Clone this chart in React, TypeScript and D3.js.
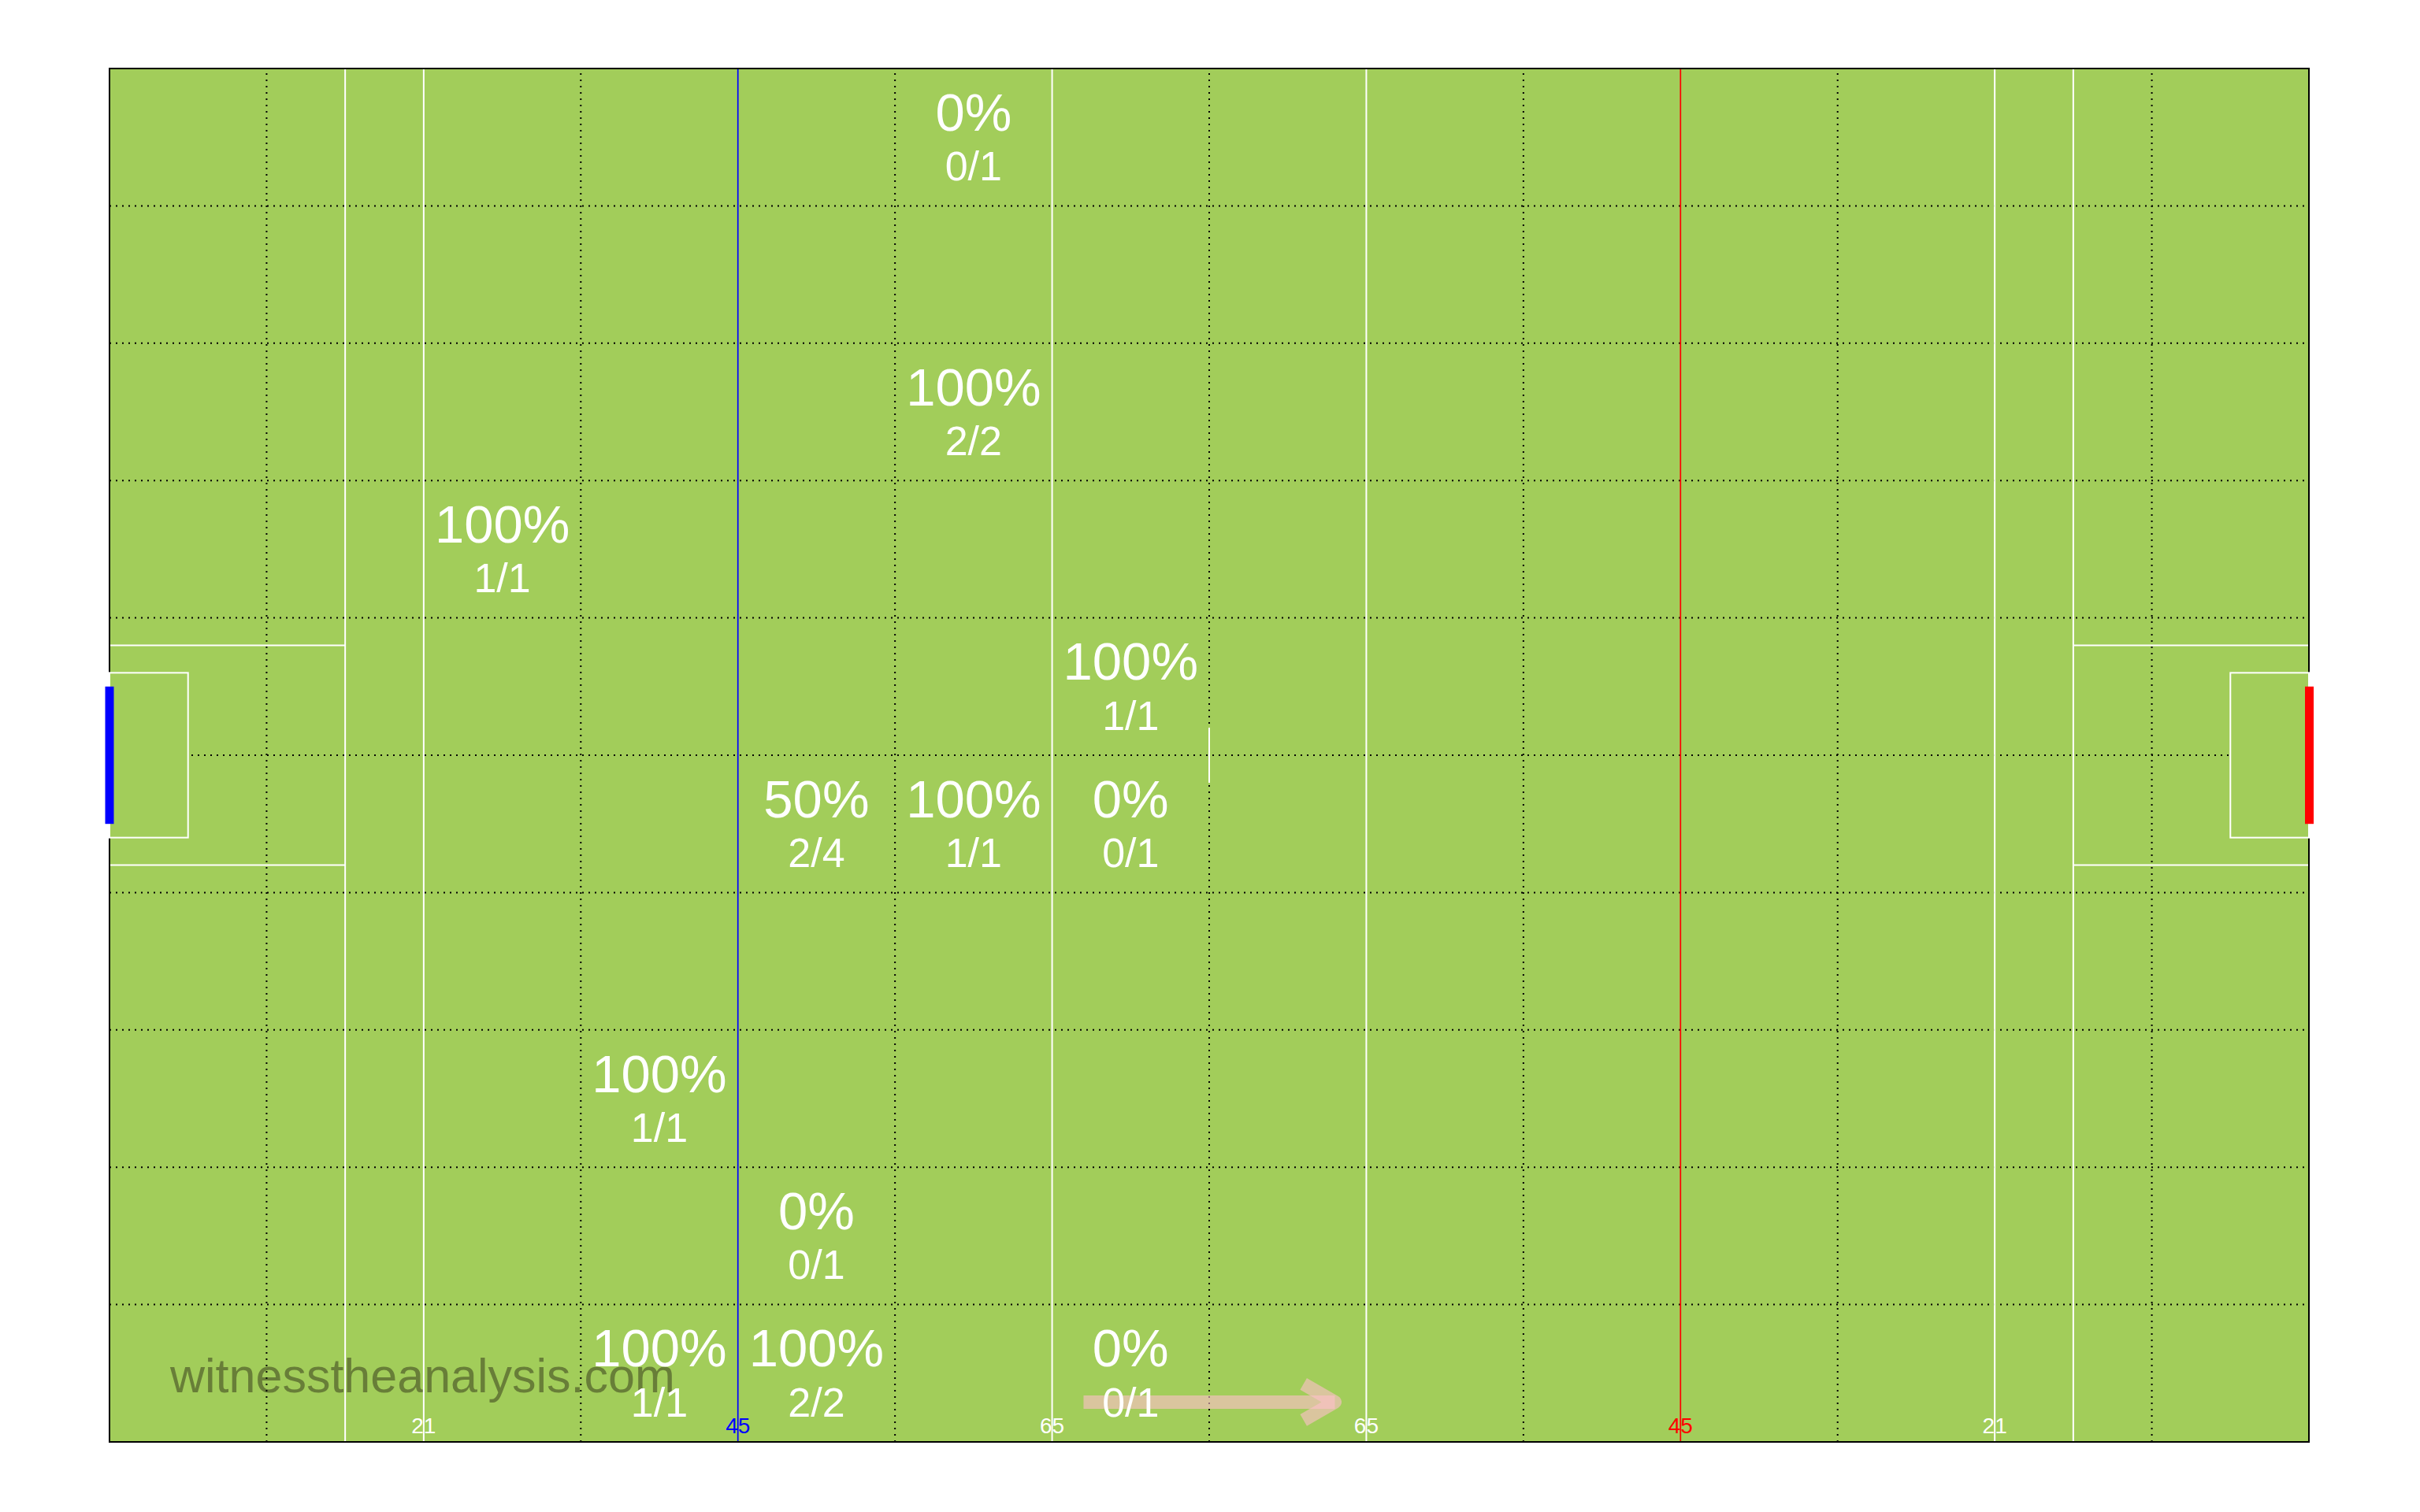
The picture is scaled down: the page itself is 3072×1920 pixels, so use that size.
import React from "react";
import * as d3 from "d3";

// ---- data ----
const X_DOMAIN = [0, 140];
const Y_DOMAIN = [0, 100];
const gridX = [10, 30, 50, 70, 90, 110, 130];
const gridY = [10, 20, 30, 40, 50, 60, 70, 80, 90];
const whiteLinesX = [15, 20, 60, 80, 120, 125];
const blueLineX = 40;
const redLineX = 100;
const markerX = [20, 40, 60, 80, 100, 120];
const markerLabels = ["21", "45", "65", "65", "45", "21"];
const markerColors = ["white", "blue", "white", "white", "red", "white"];

const cellX = [55, 55, 25, 65, 45, 55, 65, 35, 45, 35, 45, 65];
const cellY = [95, 75, 65, 55, 45, 45, 45, 25, 15, 5, 5, 5];
const made = [0, 2, 1, 1, 2, 1, 0, 1, 0, 1, 2, 0];
const attempts = [1, 2, 1, 1, 4, 1, 1, 1, 1, 1, 2, 1];

const bigBoxY = [42, 58];
const smallBoxY = [44, 56];
const goalY = [45, 55];
const centerMarkY = [48, 52];
const arrowFrom = [62, 2.9];
const arrowTo = [78, 2.9];

const W = 3072;
const H = 1920;
const LEFT = 139;
const RIGHT = 2931;
const TOP = 87;
const BOTTOM = 1831;

export default function App() {
  const x = d3.scaleLinear().domain(X_DOMAIN).range([LEFT, RIGHT]);
  const y = d3.scaleLinear().domain(Y_DOMAIN).range([BOTTOM, TOP]);
  const font = "'Liberation Sans', Arial, Helvetica, sans-serif";
  const green = "#A2CD5A";

  const ax0 = x(arrowFrom[0]);
  const ay0 = y(arrowFrom[1]);
  const ax1 = x(arrowTo[0]);
  const ay1 = y(arrowTo[1]);
  const headLen = 46;
  const ang = Math.atan2(ay1 - ay0, ax1 - ax0);
  const h1 = [ax1 - headLen * Math.cos(ang - Math.PI / 6), ay1 - headLen * Math.sin(ang - Math.PI / 6)];
  const h2 = [ax1 - headLen * Math.cos(ang + Math.PI / 6), ay1 - headLen * Math.sin(ang + Math.PI / 6)];
  const headPath = d3.line()([h1 as [number, number], [ax1, ay1], h2 as [number, number]]) || "";

  return (
    <svg
      width={W}
      height={H}
      viewBox={`0 0 ${W} ${H}`}
      style={{ position: "absolute", left: 0, top: 0, display: "block", background: "white" }}
    >
      <rect x={LEFT} y={TOP} width={RIGHT - LEFT} height={BOTTOM - TOP} fill={green} />

      {/* watermark */}
      <text x={216} y={1768} fontFamily={font} fontSize={61} fill="#687E38">
        witnesstheanalysis.com
      </text>

      {/* dotted grid */}
      {gridX.map((v) => (
        <line key={"gx" + v} x1={x(v)} x2={x(v)} y1={y(0)} y2={y(100)} stroke="black" strokeWidth={2} strokeDasharray="2,6" />
      ))}
      {gridY.map((v) => (
        <line key={"gy" + v} x1={x(0)} x2={x(140)} y1={y(v)} y2={y(v)} stroke="black" strokeWidth={2} strokeDasharray="2,6" />
      ))}

      {/* pitch lines */}
      {whiteLinesX.map((v) => (
        <line key={"wl" + v} x1={x(v)} x2={x(v)} y1={y(0)} y2={y(100)} stroke="white" strokeWidth={2} />
      ))}
      {bigBoxY.map((v) => (
        <g key={"bb" + v}>
          <line x1={x(0)} x2={x(15)} y1={y(v)} y2={y(v)} stroke="white" strokeWidth={2} />
          <line x1={x(125)} x2={x(140)} y1={y(v)} y2={y(v)} stroke="white" strokeWidth={2} />
        </g>
      ))}
      <line x1={x(blueLineX)} x2={x(blueLineX)} y1={y(0)} y2={y(100)} stroke="blue" strokeWidth={1.7} />
      <line x1={x(redLineX)} x2={x(redLineX)} y1={y(0)} y2={y(100)} stroke="red" strokeWidth={1.7} />
      <line x1={x(70)} x2={x(70)} y1={y(centerMarkY[0])} y2={y(centerMarkY[1])} stroke="white" strokeWidth={2} />

      {/* border */}
      <rect x={LEFT} y={TOP} width={RIGHT - LEFT} height={BOTTOM - TOP} fill="none" stroke="black" strokeWidth={2} />

      {/* small boxes */}
      <rect x={x(0)} y={y(smallBoxY[1])} width={x(5) - x(0)} height={y(smallBoxY[0]) - y(smallBoxY[1])} fill={green} stroke="white" strokeWidth={2} />
      <rect x={x(135)} y={y(smallBoxY[1])} width={x(140) - x(135)} height={y(smallBoxY[0]) - y(smallBoxY[1])} fill={green} stroke="white" strokeWidth={2} />

      {/* goals */}
      <rect x={x(0) - 5.5} y={y(goalY[1])} width={11} height={y(goalY[0]) - y(goalY[1])} fill="blue" />
      <rect x={x(140) - 5} y={y(goalY[1])} width={11} height={y(goalY[0]) - y(goalY[1])} fill="red" />

      {/* marker labels */}
      {markerX.map((v, i) => (
        <text key={"ml" + i} x={x(v)} y={y(0) - 11.5} textAnchor="middle" fontFamily={font} fontSize={28} fill={markerColors[i]}>
          {markerLabels[i]}
        </text>
      ))}

      {/* arrow */}
      <g stroke="rgb(255,192,203)" strokeOpacity={0.6} strokeWidth={17} fill="none">
        <line x1={ax0} y1={ay0} x2={ax1} y2={ay1} strokeLinecap="butt" />
        <path d={headPath} strokeLinejoin="round" strokeLinecap="butt" />
      </g>

      {/* cell stats */}
      {cellX.map((cx, i) => {
        const px = x(cx);
        const py = y(cellY[i]);
        const pct = Math.round((100 * made[i]) / attempts[i]);
        return (
          <g key={"c" + i} fontFamily={font} fill="white" textAnchor="middle">
            <text x={px} y={py - 8.5} fontSize={67}>{pct + "%"}</text>
            <text x={px} y={py + 55} fontSize={52}>{made[i] + "/" + attempts[i]}</text>
          </g>
        );
      })}
    </svg>
  );
}
